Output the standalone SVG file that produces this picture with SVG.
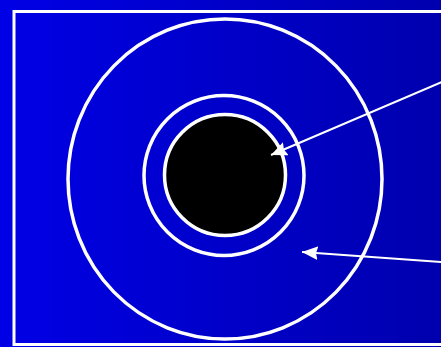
<svg xmlns="http://www.w3.org/2000/svg" width="441" height="347" viewBox="0 0 441 347">
<defs>
<linearGradient id="bg" x1="0" y1="0" x2="1" y2="0">
<stop offset="0" stop-color="#0000E6"/>
<stop offset="1" stop-color="#0000AE"/>
</linearGradient>
<marker id="ah" markerUnits="userSpaceOnUse" markerWidth="18" markerHeight="16" refX="16" refY="7" orient="auto">
<path d="M0,0 L16,7 L0,14 L2,7 Z" fill="#fff"/>
</marker>
<style>
.ring{fill:none;stroke:#fff;stroke-width:3.5}
.arr{stroke:#fff;stroke-width:2;fill:none;marker-end:url(#ah)}
</style>
</defs>
<rect x="0" y="0" width="441" height="347" fill="url(#bg)"/>
<rect x="14" y="11.5" width="440" height="333" fill="none" stroke="#fff" stroke-width="3"/>
<g id="outer"><ellipse cx="225" cy="179" rx="157" ry="160" class="ring"/></g>
<g id="middle"><circle cx="224" cy="175.5" r="80" class="ring"/></g>
<g id="core"><circle cx="225" cy="175" r="60.5" fill="#000" stroke="#fff" stroke-width="3.5"/></g>
<g id="connectors">
<line x1="442" y1="82" x2="271" y2="155" class="arr"/>
<line x1="442" y1="262" x2="302" y2="252" class="arr"/>
</g>
</svg>
